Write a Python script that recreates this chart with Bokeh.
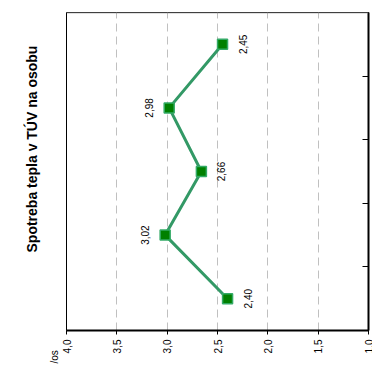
from math import pi
from bokeh.plotting import figure
from bokeh.models import (ColumnDataSource, Range1d, FixedTicker,
                          LabelSet, Span, Title)
from bokeh.core.properties import value
from bokeh.embed import file_html
from bokeh.resources import INLINE

# --- data ---
categories = ["1", "2", "3", "4", "5"]          # bottom to top (labels hidden in reference)
values = [2.40, 3.02, 2.66, 2.98, 2.45]
value_labels = ["2,40", "3,02", "2,66", "2,98", "2,45"]
tick_values = [4.0, 3.5, 3.0, 2.5, 2.0, 1.5, 1.0]
tick_labels = ["4,0", "3,5", "3,0", "2,5", "2,0", "1,5", "1,0"]
title_text = "Spotreba tepla v TÚV na osobu"
unit_text = "/os"

FONT = "Liberation Sans"

ypos = [i + 0.5 for i in range(len(categories))]
mean_v = sum(values) / len(values)
offsets = [-20 if v > mean_v else 20 for v in values]

src = ColumnDataSource(dict(x=values, y=ypos, lab=value_labels, xo=offsets))

p = figure(width=372, height=365, output_backend="svg", toolbar_location=None,
           x_range=Range1d(4.0, 1.0), y_range=Range1d(0, len(categories)),
           x_axis_location="below", y_axis_location="right",
           min_border_left=66, min_border_top=12, min_border_right=4,
           min_border_bottom=35)
p.background_fill_color = "white"
p.border_fill_color = "white"
p.outline_line_color = "black"
p.outline_line_width = 1

# bottom value axis
xa = p.xaxis[0]
xa.ticker = FixedTicker(ticks=tick_values)
xa.major_label_overrides = {v: l for v, l in zip(tick_values, tick_labels)}
xa.major_label_orientation = pi / 2
xa.major_label_text_font = FONT
xa.major_label_text_font_size = "10px"
xa.major_label_text_color = "black"
xa.major_label_standoff = 5
xa.axis_line_color = "black"
xa.axis_line_width = 2
xa.major_tick_line_color = "black"
xa.major_tick_line_width = 1
xa.major_tick_out = 4
xa.major_tick_in = 0
xa.minor_tick_line_color = None

# right category axis (ticks at boundaries, no labels)
ya = p.yaxis[0]
ya.ticker = FixedTicker(ticks=list(range(len(categories) + 1)))
ya.major_label_overrides = {i: "" for i in range(len(categories) + 1)}
ya.major_label_standoff = 0
ya.axis_line_color = "black"
ya.axis_line_width = 2
ya.major_tick_line_color = "black"
ya.major_tick_in = 6
ya.major_tick_out = 0
ya.minor_tick_line_color = None

# grid
p.xgrid.ticker = FixedTicker(ticks=tick_values[1:-1])
p.xgrid.grid_line_color = "#c0c0c0"
p.xgrid.grid_line_dash = "8 5"
p.xgrid.grid_line_width = 1
p.ygrid.grid_line_color = None

# top border gray
p.add_layout(Span(location=len(categories), dimension="width",
                  line_color="#808080", line_width=1.5))

# series
p.line("x", "y", source=src, line_color="#339966", line_width=3)
p.scatter("x", "y", source=src, marker="square", size=10,
          fill_color="#008000", line_color="#33aa66", line_width=1.5)

p.add_layout(LabelSet(x="x", y="y", text="lab", source=src, x_offset="xo",
                      angle=pi / 2, text_align="center", text_baseline="middle",
                      text_font=value(FONT), text_font_size="10px", text_color="black"))

p.add_layout(Title(text=unit_text, align="left", offset=-33, standoff=14,
                   text_font=FONT, text_font_size="10px", text_font_style="normal",
                   text_color="black"), "left")
p.add_layout(Title(text=title_text, align="left", offset=78, standoff=0,
                   text_font=FONT, text_font_size="14px", text_font_style="bold",
                   text_color="black"), "left")

open("out.html", "w").write(file_html(p, INLINE))
